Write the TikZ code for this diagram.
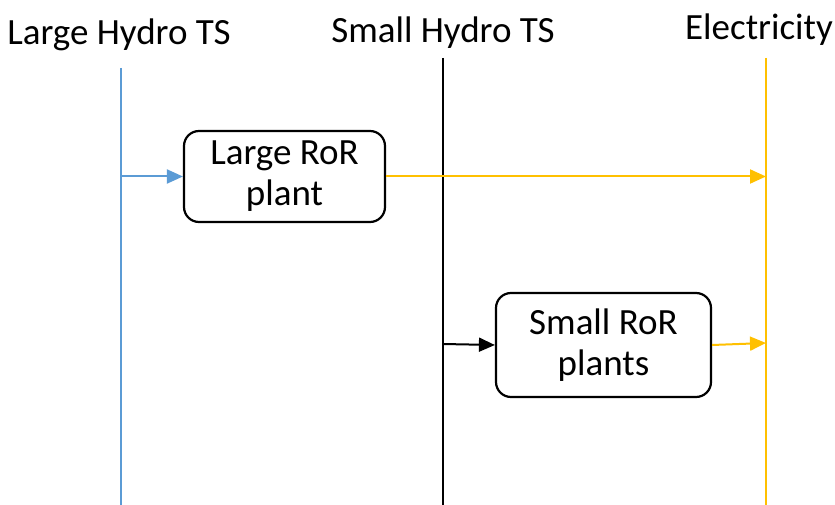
\documentclass[tikz,border=0pt]{standalone}
\usepackage{fontspec}
\setmainfont{Carlito}
\usepackage{xcolor}
\usetikzlibrary{positioning, arrows.meta}
\definecolor{hydroblue}{HTML}{5B9BD5}
\definecolor{elecyellow}{HTML}{FFC000}
\tikzset{
  busline/.style={line width=2pt},
  plantbox/.style={draw, line width=2.2pt, rounded corners=15pt, align=center,
    font=\fontsize{37}{41}\selectfont},
  buslabel/.style={font=\fontsize{37}{41}\selectfont, inner sep=0pt},
  flow/.style={line width=2pt, -{Triangle[length=16pt,width=14pt]}}
}

\begin{document}
\begin{tikzpicture}[x=1pt, y=-1pt]
    \useasboundingbox (0,0) rectangle (835,505);
    % buses
    \node[buslabel] (lhts) at (119,35) {Large Hydro TS};
    \node[buslabel] (shts) at (443,33) {Small Hydro TS};
    \node[buslabel] (elec) at (759,30) {Electricity};
    \coordinate (lhtsTop) at (121,68);  \coordinate (lhtsBot) at (121,505);
    \coordinate (shtsTop) at (443,58);  \coordinate (shtsBot) at (443,505);
    \coordinate (elecTop) at (766,58);  \coordinate (elecBot) at (766,505);
    \draw[busline, hydroblue] (lhtsTop) -- (lhtsBot);
    \draw[busline, black] (shtsTop) -- (shtsBot);
    \draw[busline, elecyellow] (elecTop) -- (elecBot);
    % plants
    \node[plantbox, minimum width=201pt, minimum height=91pt] (lror) at (284.5,176.5) {Large RoR\\plant};
    \node[plantbox, minimum width=215pt, minimum height=104pt] (sror) at (603.5,345) {Small RoR\\plants};
    % flows
    \draw[flow, hydroblue] (lror.west -| lhtsTop) -- (lror.west);
    \draw[flow, elecyellow] (lror.east) -- (lror.east -| elecTop);
    \coordinate (shtsOut) at (443,344);
    \draw[flow, black] (shtsOut) -- (sror.west);
    \coordinate (elecIn) at (766,343);
    \draw[flow, elecyellow] (sror.east) -- (elecIn);
  \end{tikzpicture}
\end{document}
